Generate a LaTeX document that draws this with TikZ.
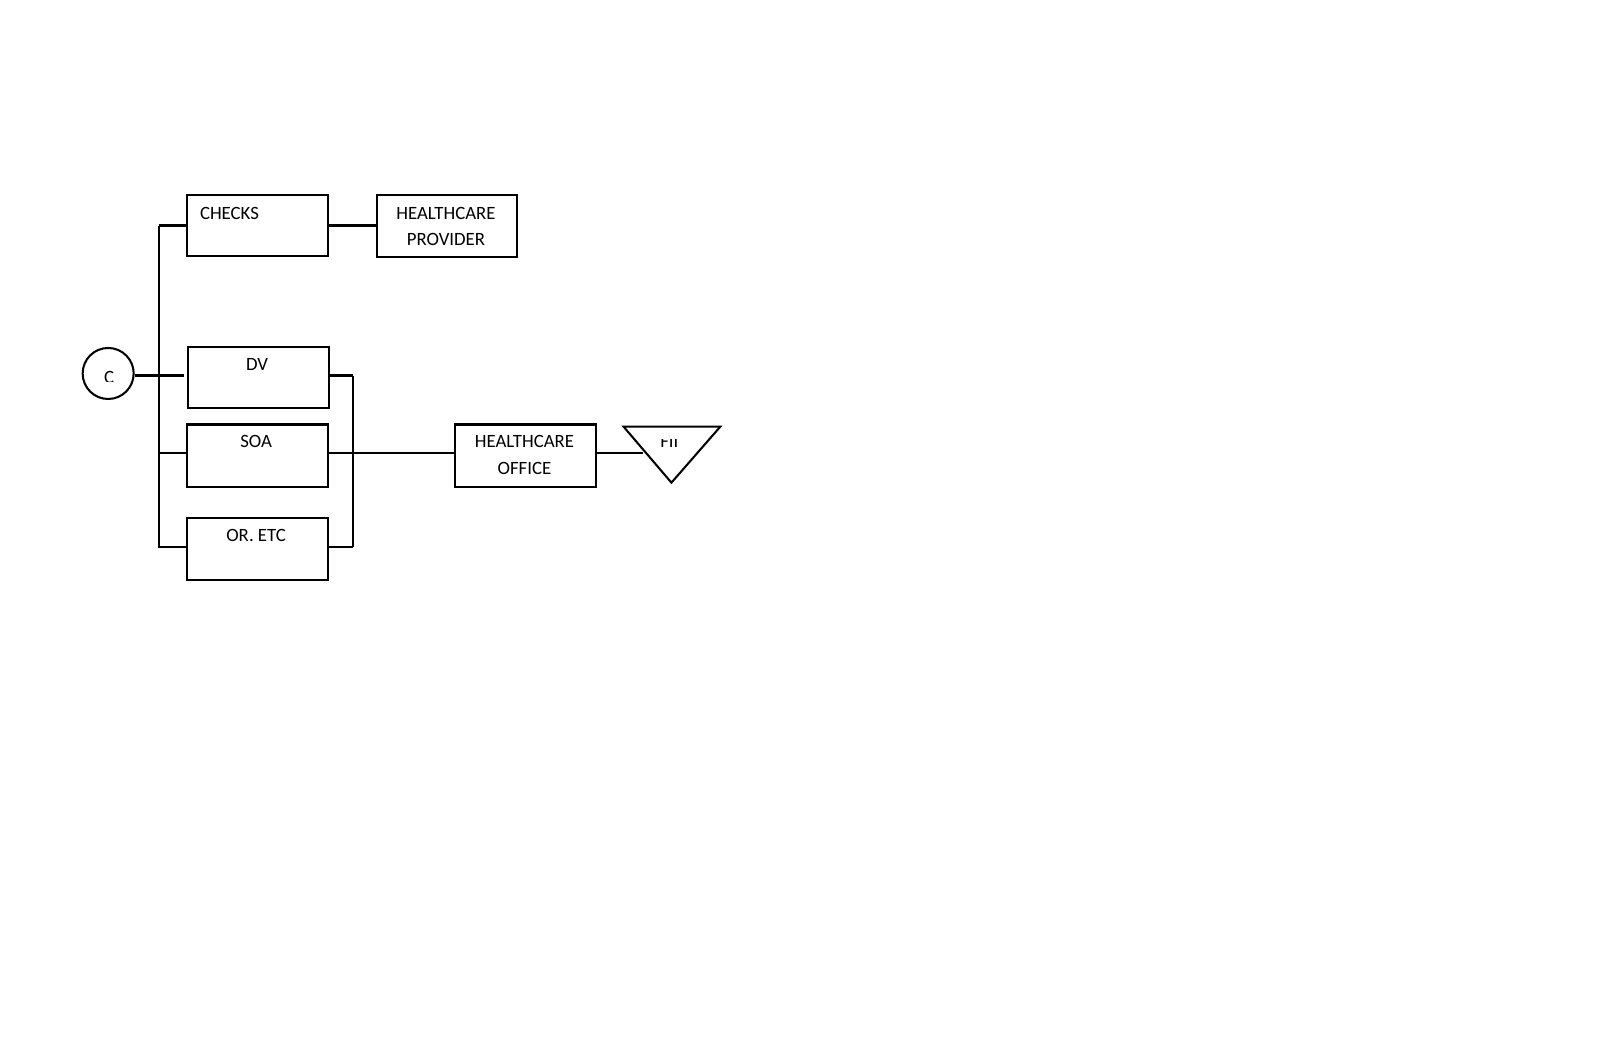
\documentclass[tikz,border=0pt]{standalone}
\usepackage{fontspec}
\setmainfont{Carlito}
\begin{document}
\begin{tikzpicture}[x=1pt,y=-1pt,
  line width=2pt,
  box/.style={draw, line width=2pt, minimum width=138pt, inner sep=0pt, anchor=north west},
  txt/.style={font=\fontsize{18.4}{26}\selectfont, inner sep=0pt, anchor=base, align=center},
  wire/.style={draw, line width=2pt}]
\useasboundingbox (0,0) rectangle (1568,1025);

% boxes
\node[box, minimum height=60pt] (checks) at (182,190) {};
\node[box, minimum height=61pt] (hp) at (368,190) {};
\node[box, minimum height=60pt] (dv) at (183,339) {};
\node[box, minimum height=61pt] (soa) at (182,415) {};
\node[box, minimum height=60pt] (oretc) at (182,507) {};
\node[box, minimum height=61pt] (ho) at (445,415) {};
\node[draw, circle, minimum size=50pt, inner sep=0pt, line width=2pt] (circ) at (106,366) {};

% texts
\node[txt, anchor=base west] (checkst) at (195,215) {CHECKS};
\node[txt] (hpt1) at (437,215) {HEALTHCARE};
\node[txt] (hpt2) at (437,241) {PROVIDER};
\node[txt] (dvt) at (252,363) {DV};
\node[txt] (soat) at (251,439) {SOA};
\node[txt] (oretct) at (251,531) {OR. ETC};
\node[txt] (hot1) at (514,439) {HEALTHCARE};
\node[txt] (hot2) at (514,465) {OFFICE};

\begin{scope}
  \clip (95,355) rectangle (120,373.5);
  \node[txt] (ct) at (107,375.6) {C};
\end{scope}

% triangle
\coordinate (t1) at (611,418);
\coordinate (t2) at (706,418);
\coordinate (t3) at (658,473);
\draw[line width=2pt, line join=miter] (t1) -- (t2) -- (t3) -- cycle;
\begin{scope}
  \clip (625,430.5) rectangle (690,446);
  \node[txt] (fiit) at (656,439) {FII};
\end{scope}

% buses
\coordinate (lbTop) at (156,221);
\coordinate (lbBot) at (156,537);
\coordinate (rbTop) at (346,368);
\coordinate (rbBot) at (346,536);
\coordinate (cend) at (180,368);
\coordinate (tin) at (630,444);

\draw[wire] (lbTop) -- (lbBot);
\draw[wire] (rbTop) -- (rbBot);

% connectors
\draw[wire] (lbTop) -- (lbTop -| checks.west);
\draw[wire] (lbTop -| checks.east) -- (lbTop -| hp.west);
\draw[wire] (circ.east |- cend) -- (cend);
\draw[wire] (rbTop -| dv.east) -- (rbTop);
\draw[wire] (tin -| lbTop) -- (tin -| soa.west);
\draw[wire] (tin -| soa.east) -- (tin -| ho.west);
\draw[wire] (lbBot |- rbBot) -- (rbBot -| oretc.west);
\draw[wire] (rbBot -| oretc.east) -- (rbBot);
\draw[wire] (tin -| ho.east) -- (tin);
\end{tikzpicture}
\end{document}
